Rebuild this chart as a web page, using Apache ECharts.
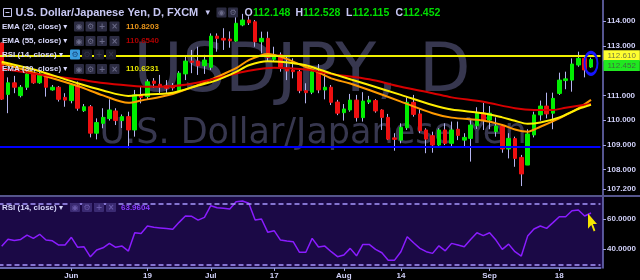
<!DOCTYPE html>
<html><head><meta charset="utf-8">
<script src="https://cdn.jsdelivr.net/npm/echarts@6/dist/echarts.min.js"></script>
<style>html,body{margin:0;padding:0;background:#000;}#c{width:640px;height:280px;}</style>
</head><body><div id="c"></div>
<script>
// ---------- data ----------
const opens = [113.12,111.04,111.51,110.99,111.33,111.87,111.51,111.87,111.22,111.33,
110.92,110.79,111.42,110.38,110.54,109.47,109.87,110.06,110.37,109.98,
110.14,109.60,111.02,110.95,111.58,111.45,111.39,111.38,111.19,111.87,
112.39,112.39,112.20,112.14,113.40,113.31,113.28,113.20,113.85,114.05,
113.98,113.17,113.31,112.46,112.64,112.10,112.03,111.96,111.19,111.13,
111.96,111.22,111.33,110.73,110.30,110.41,110.81,110.10,110.73,110.79,
110.41,110.11,109.28,109.19,109.69,110.72,110.25,109.60,109.37,108.99,
109.60,109.06,109.63,109.19,109.26,109.77,110.28,110.00,109.53,109.76,
108.83,109.25,108.49,108.18,109.40,110.21,110.57,110.28,111.08,111.60,
111.62,112.23,112.50,112.148];
const closes = [110.85,111.51,111.33,111.33,111.87,111.51,111.87,111.33,111.33,110.84,
110.81,111.42,110.48,110.54,109.47,109.90,110.11,110.41,109.98,110.14,
109.60,111.02,110.92,111.55,111.49,111.35,111.29,111.30,111.90,112.39,
112.34,112.20,112.43,113.40,113.31,113.24,113.21,113.92,114.05,113.94,
113.17,113.31,112.54,112.64,112.10,111.99,111.96,111.19,111.11,111.96,
111.22,111.33,110.72,110.28,110.45,110.81,110.10,110.77,110.81,110.37,
110.11,109.23,109.22,109.71,110.72,110.23,109.57,109.23,108.99,109.60,
109.06,109.60,109.38,109.30,109.80,110.28,110.00,110.28,109.76,108.83,
109.26,108.45,107.82,109.44,110.21,110.57,110.25,110.88,111.62,111.67,
112.27,112.50,112.03,112.452];
const lows = [110.82,110.28,111.09,110.92,111.22,111.47,111.47,110.95,111.19,110.75,
110.54,110.68,110.38,110.33,109.30,109.22,109.67,109.98,109.80,109.68,
108.86,109.33,110.68,110.85,111.30,111.09,111.10,111.20,111.15,111.62,
111.90,111.83,111.87,112.03,112.77,112.84,112.93,113.17,113.80,113.85,
112.97,112.70,112.36,112.36,111.96,111.62,111.69,111.09,110.68,111.05,
111.09,110.84,110.61,110.20,109.98,110.34,109.94,109.94,110.65,110.30,
109.60,109.19,108.76,109.06,109.60,110.14,109.47,108.66,108.68,108.92,
108.99,108.92,109.19,108.92,108.32,109.64,109.60,109.63,109.33,108.68,
108.45,108.11,107.33,108.18,109.30,109.98,110.07,109.63,111.02,111.25,
111.15,112.16,111.73,112.115];
const highs = [113.15,111.73,111.79,111.42,112.00,111.92,111.95,111.89,111.42,111.38,
111.09,111.49,111.56,110.65,110.61,110.07,110.48,110.84,110.48,110.23,
110.34,111.22,111.35,111.65,111.70,111.83,111.62,111.50,111.98,112.57,
112.84,112.97,112.64,113.51,113.51,113.72,113.59,114.25,114.30,114.20,
114.05,113.58,113.58,112.97,112.74,112.57,112.50,112.10,111.49,112.05,
112.27,111.89,111.42,110.82,110.65,111.06,111.02,111.13,110.98,110.85,
110.44,110.25,109.47,109.87,110.92,111.02,110.44,109.67,109.53,109.67,
109.87,109.94,109.94,109.47,110.00,110.52,110.70,110.57,110.11,109.83,
109.47,109.33,108.59,109.63,110.34,110.79,111.11,111.11,111.92,111.96,
112.50,112.77,112.57,112.528];
const rsi = [42.0,46.6,45.8,46.5,49.4,47.2,49.9,46.1,45.6,42.8,
42.8,47.9,41.3,41.6,35.0,39.5,41.0,43.9,41.3,42.1,
38.8,50.9,50.5,55.4,54.5,54.1,53.7,53.2,57.8,62.0,
61.8,59.3,61.1,68.8,67.5,67.1,66.6,71.5,71.9,70.4,
59.3,60.0,51.2,52.3,46.1,45.4,45.0,38.0,38.0,47.2,
41.5,42.1,38.4,35.1,36.2,40.6,35.7,43.2,43.2,39.9,
37.7,32.8,32.8,38.4,48.3,44.3,40.6,38.4,37.3,42.3,
39.0,43.9,42.8,41.7,46.5,50.9,49.0,50.9,46.1,39.9,
43.4,38.4,35.5,48.7,53.4,55.4,53.8,57.6,61.5,61.5,
65.5,66.0,62.0,63.96];
// EMA curves read at [slot, value]
const ema20 = [[0,112.30],[6,111.85],[12,111.38],[16,111.00],[20,110.70],[22,110.79],[27,111.06],[31,111.42],[34,111.75],[37,112.10],[39,112.43],[42,112.68],[44,112.57],[48,112.15],[50,111.93],[52,111.69],[55,111.48],[58,111.22],[63,110.75],[68,110.28],[71,110.10],[76,109.98],[79,109.80],[81,109.62],[83,109.53],[85,109.73],[88,110.07],[91,110.48],[93,110.82]];
const ema30 = [[0,112.36],[6,111.98],[12,111.49],[16,111.20],[20,110.98],[22,111.02],[27,111.11],[31,111.40],[34,111.62],[37,111.95],[39,112.22],[42,112.38],[44,112.36],[48,112.22],[50,112.06],[52,111.89],[58,111.42],[63,111.02],[68,110.61],[71,110.43],[76,110.28],[79,110.11],[81,109.97],[83,109.85],[85,109.90],[88,110.11],[91,110.45],[93,110.62]];
const ema55 = [[0,112.08],[6,111.85],[12,111.65],[16,111.50],[20,111.40],[23,111.35],[26,111.36],[29,111.43],[31,111.52],[34,111.70],[39,112.00],[43,112.12],[48,112.05],[52,111.87],[58,111.65],[63,111.35],[68,111.09],[71,110.92],[76,110.74],[81,110.48],[84,110.41],[87,110.41],[89,110.50],[92,110.62],[93,110.65]];
const tickSlots = [11,23,33,43,54,63,77,88];
const tickLabels = ['Jun','19','Jul','17','Aug','14','Sep','18'];
const priceTicks = [107.2,108,109,110,111,113,114];
const rsiTicks = [40,60];
const rsiBands = [30,70];
const levelYellow = 112.61;
const levelBlue = 108.93;
const lastQuote = {o:112.148, h:112.528, l:112.115, c:112.452};
const emaLast = {e20:'110.8203', e55:'110.6540', e30:'110.6231'};
const rsiLast = '63.9604';
const slotCount = 95;

// ---------- build ----------
const categories = [];
for (let i = 0; i < slotCount; i++) categories.push(String(i));
const candleData = opens.map((o,i)=>[o, closes[i], lows[i], highs[i]]);
const bodyData = opens.map((o,i)=>[o, closes[i], Math.min(o,closes[i]), Math.max(o,closes[i])]);
const last = opens.length - 1;
const isTick = (i) => tickSlots.indexOf(i) >= 0;

const FONT = '"Liberation Sans","DejaVu Sans",sans-serif';
function T(x, y, s, fill, size, weight, z) {
  return {type:'text', x:x, y:y, z:z==null?50:z, silent:true,
    style:{text:s, fill:fill, font:(weight||'bold')+' '+size+'px '+FONT, verticalAlign:'middle', align:'left'}};
}
function box(x, y, w, h, fill, glyph, gcol, z) {
  const els = [{type:'rect', z:z||50, silent:true, shape:{x:x, y:y, width:w, height:h, r:1}, style:{fill:fill}}];
  if (glyph) els.push({type:'text', z:(z||50)+1, silent:true, x:x+w/2, y:y+h/2+0.5,
    style:{text:glyph, fill:gcol, font:'bold 8px "DejaVu Sans",sans-serif', align:'center', verticalAlign:'middle'}});
  return els;
}
const g = [];
// RSI pane background and separator
g.push({type:'rect', z:-10, silent:true, shape:{x:0, y:197, width:603, height:71}, style:{fill:'#1b0946'}});
g.push({type:'line', z:40, silent:true, shape:{x1:0, y1:196, x2:640, y2:196}, style:{stroke:'#55558c', lineWidth:2}});
// watermark
g.push({type:'text', z:-5, silent:true, x:302, y:74, style:{text:'USDJPY, D', fill:'#37374f', font:'67px "DejaVu Sans",sans-serif', align:'center', verticalAlign:'middle'}});
g.push({type:'text', z:-5, silent:true, x:313, y:134, style:{text:'U.S. Dollar/Japanese Yen', fill:'#37374f', font:'35px "DejaVu Sans",sans-serif', align:'center', verticalAlign:'middle'}});
// title row
g.push({type:'rect', z:50, silent:true, shape:{x:3.5, y:8.5, width:8, height:8}, style:{fill:'none', stroke:'#c4c4f0', lineWidth:1}});
g.push({type:'line', z:50, silent:true, shape:{x1:5.5, y1:12.5, x2:9.5, y2:12.5}, style:{stroke:'#c4c4f0', lineWidth:1}});
g.push(T(15.5, 13, 'U.S. Dollar/Japanese Yen, D, FXCM', '#c8c8f4', 11));
g.push(T(205.5, 13, '▾', '#c8c8f4', 9));
g.push(...box(216.5, 7.5, 10, 10, '#2c2c42', '◉', '#6a6a88'));
g.push(...box(228, 7.5, 10, 10, '#2c2c42', '⚙', '#6a6a88'));
g.push(T(244.5, 13, 'O', '#c8c8f4', 10.5));
g.push(T(253, 13, lastQuote.o.toFixed(3), '#00dd00', 10.5));
g.push(T(295.5, 13, 'H', '#c8c8f4', 10.5));
g.push(T(303, 13, lastQuote.h.toFixed(3), '#00dd00', 10.5));
g.push(T(346, 13, 'L', '#c8c8f4', 10.5));
g.push(T(352.5, 13, lastQuote.l.toFixed(3), '#00dd00', 10.5));
g.push(T(395.5, 13, 'C', '#c8c8f4', 10.5));
g.push(T(403, 13, lastQuote.c.toFixed(3), '#00dd00', 10.5));
// indicator rows
const rows = [
  {y:26.5, name:'EMA (20, close) ▾', val:emaLast.e20, col:'#e8951a'},
  {y:41, name:'EMA (55, close) ▾', val:emaLast.e55, col:'#b00000'},
  {y:54.5, name:'RSI (14, close) ▾', val:null, col:null},
  {y:69, name:'EMA (30, close) ▾', val:emaLast.e30, col:'#e4e400'}
];
rows.forEach(r => {
  g.push(T(2, r.y, r.name, '#d8d8fc', 8));
  if (r.val) {
    g.push(...box(74, r.y-5, 10, 10, '#2c2c42', '◉', '#6a6a88'));
    g.push(...box(85.5, r.y-5, 10, 10, '#2c2c42', '⚙', '#6a6a88'));
    g.push(...box(97, r.y-5, 10, 10, '#2c2c42', '+', '#6a6a88'));
    g.push(...box(109.5, r.y-5, 10, 10, '#2c2c42', '×', '#6a6a88'));
    g.push(T(126, r.y, r.val, r.col, 8));
  } else {
    g.push(...box(70, r.y-5, 10, 10, '#3a9ee0', '⚙', '#1a4a80'));
    g.push(...box(82, r.y-5, 10, 10, '#1c1c2a', '⚙', '#34344a'));
    g.push(...box(94, r.y-5, 10, 10, '#1c1c2a', '+', '#34344a'));
    g.push(...box(106, r.y-5, 10, 10, '#1c1c2a', '×', '#34344a'));
  }
});
// RSI pane header
g.push(T(2, 207.5, 'RSI (14, close) ▾', '#d8d8fc', 8));
g.push(...box(70, 203, 10, 9, '#3a2a72', '◉', '#6858a8'));
g.push(...box(82, 203, 10, 9, '#3a2a72', '⚙', '#6858a8'));
g.push(...box(94, 203, 10, 9, '#3a2a72', '+', '#6858a8'));
g.push(...box(106, 203, 10, 9, '#3a2a72', '×', '#6858a8'));
g.push(T(121, 207.5, rsiLast, '#8a3cff', 8));

const axisLabelStyle = {color:'#d0d0f8', fontSize:8, fontWeight:'bold', fontFamily:FONT};

const option = {
  backgroundColor:'#000',
  animation:false,
  grid:[
    {left:-1.5, right:39.5, top:0, height:195, outerBoundsMode:'none', containLabel:false},
    {left:-1.5, right:39.5, top:197, height:71, outerBoundsMode:'none', containLabel:false}
  ],
  xAxis:[
    {type:'category', gridIndex:0, data:categories, boundaryGap:true, show:false},
    {type:'category', gridIndex:1, data:categories, boundaryGap:true,
      axisLine:{show:true, lineStyle:{color:'#6a6ab0', width:2}},
      axisTick:{show:true, interval:(i)=>isTick(i), alignWithLabel:true, length:3, lineStyle:{color:'#9a9ad8', width:1}},
      axisLabel:Object.assign({interval:(i)=>isTick(i), margin:4,
        formatter:(v)=>{const k = tickSlots.indexOf(Number(v)); return k>=0 ? tickLabels[k] : '';}}, axisLabelStyle),
      splitLine:{show:false}}
  ],
  yAxis:[
    {type:'value', gridIndex:0, position:'right', offset:2.5, min:106.968, max:114.862, scale:true,
      axisLine:{show:true, lineStyle:{color:'#7272c0', width:1.5}},
      axisTick:{show:true, customValues:priceTicks, length:3, lineStyle:{color:'#a0a0e0'}},
      axisLabel:Object.assign({customValues:priceTicks, margin:4, formatter:(v)=>Number(v).toFixed(3)}, axisLabelStyle),
      splitLine:{show:false}},
    {type:'value', gridIndex:1, position:'right', offset:2.5, min:27.62, max:74.57, scale:true,
      axisLine:{show:true, lineStyle:{color:'#7272c0', width:1.5}},
      axisTick:{show:true, customValues:rsiTicks, length:3, lineStyle:{color:'#a0a0e0'}},
      axisLabel:Object.assign({customValues:rsiTicks, margin:4, formatter:(v)=>Number(v).toFixed(4)}, axisLabelStyle),
      splitLine:{show:false}}
  ],
  graphic:{elements:g},
  series:[
    {type:'candlestick', name:'wicks', xAxisIndex:0, yAxisIndex:0, data:candleData, barWidth:1, z:2, silent:true,
      itemStyle:{color:'#b4b4f0', color0:'#b4b4f0', borderColor:'#b4b4f0', borderColor0:'#b4b4f0', borderWidth:1}},
    {type:'candlestick', name:'bodies', xAxisIndex:0, yAxisIndex:0, data:bodyData, barWidth:4, z:3, silent:true,
      itemStyle:{color:'#00ee00', color0:'#ee1010', borderColor:'#00ee00', borderColor0:'#ee1010', borderWidth:1},
      markPoint:{silent:true, animation:false, symbol:'circle', symbolSize:[13,22],
        itemStyle:{color:'rgba(0,0,0,0)', borderColor:'#1616ff', borderWidth:2.5},
        label:{show:false},
        data:[{coord:[categories[last], (lastQuote.o+lastQuote.c)/2]}]},
      markLine:{silent:true, animation:false, symbol:['none','none'],
        data:[
          {yAxis:levelYellow, lineStyle:{color:'#f0f000', width:2, type:'solid'},
            label:{show:true, position:'end', distance:3, formatter:levelYellow.toFixed(3), backgroundColor:'#ffff30', color:'#7a7a40',
              fontSize:8, fontFamily:FONT, padding:[2,4,1,4]}},
          {yAxis:levelBlue, lineStyle:{color:'#0000ff', width:2, type:'solid'}, label:{show:false}}
        ]}},
    {type:'line', name:'lastPrice', xAxisIndex:0, yAxisIndex:0, data:[], z:6, silent:true, symbol:'none',
      markLine:{silent:true, animation:false, symbol:['none','none'],
        data:[{yAxis:lastQuote.c, lineStyle:{color:'rgba(0,0,0,0)', width:1, type:'solid'},
          label:{show:true, position:'end', distance:3, offset:[0,6], formatter:lastQuote.c.toFixed(3),
            backgroundColor:'#20e820', color:'#3e6e3e', fontSize:8, fontFamily:FONT, padding:[2,4,1,4]}}]}},
    {type:'line', name:'EMA20', xAxisIndex:0, yAxisIndex:0, data:ema20, symbol:'none', smooth:0.3, z:4, silent:true,
      lineStyle:{color:'#ff9a00', width:2}},
    {type:'line', name:'EMA55', xAxisIndex:0, yAxisIndex:0, data:ema55, symbol:'none', smooth:0.3, z:4, silent:true,
      lineStyle:{color:'#d80000', width:2}},
    {type:'line', name:'EMA30', xAxisIndex:0, yAxisIndex:0, data:ema30, symbol:'none', smooth:0.3, z:4, silent:true,
      lineStyle:{color:'#ffee00', width:2}},
    {type:'line', name:'RSI', xAxisIndex:1, yAxisIndex:1, data:rsi, symbol:'none', z:4, silent:true,
      lineStyle:{color:'#8a1cff', width:1.5},
      markLine:{silent:true, animation:false, symbol:['none','none'], label:{show:false},
        lineStyle:{color:'#a898ff', width:1.5, type:[5,3]},
        data:rsiBands.map(v=>({yAxis:v}))},
      markPoint:{silent:true, animation:false, symbol:'path://M0,0 L0,16 L4,12 L7,19 L9,18 L6,11 L11,11 Z',
        symbolSize:[9,18], symbolOffset:[1.5,9.5], itemStyle:{color:'#f4e400'}, label:{show:false},
        data:[{coord:[categories[last], rsi[last]]}]}}
  ]
};
const chart = echarts.init(document.getElementById('c'), null, {renderer:'canvas', width:640, height:280});
chart.setOption(option);
</script>
</body></html>
